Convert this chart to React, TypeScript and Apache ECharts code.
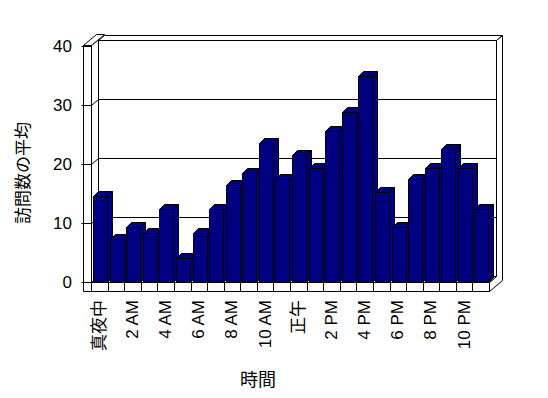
import React, { useEffect, useRef } from "react";
import * as echarts from "echarts";

const hours = [
  "真夜中", "1 AM", "2 AM", "3 AM", "4 AM", "5 AM", "6 AM", "7 AM", "8 AM", "9 AM", "10 AM", "11 AM",
  "正午", "1 PM", "2 PM", "3 PM", "4 PM", "5 PM", "6 PM", "7 PM", "8 PM", "9 PM", "10 PM", "11 PM",
];
const avgVisits = [
  14.5, 7.3, 9.3, 8.3, 12.4, 4.1, 8.3, 12.3, 16.4, 18.4, 23.5, 17.4,
  21.5, 19.4, 25.6, 28.8, 34.9, 15.3, 9.3, 17.4, 19.4, 22.5, 19.4, 12.3,
];
const yMin = 0;
const yMax = 40;
const yStep = 10;
const gridValues = [10, 20, 30];
const yTitle = "訪問数の平均";
const xTitle = "時間";

const FONT = "'Liberation Sans', Arial, 'Noto Sans CJK JP', sans-serif";
const BAR = "#000080";

const p = (v: number) => Math.round(v) + 0.5;

export default function App() {
  const ref = useRef<HTMLDivElement>(null);
  useEffect(() => {
    if (!ref.current) return;
    const chart = echarts.init(ref.current, null, { renderer: "svg" });
    const line = { fill: "#fff", stroke: "#000", lineWidth: 1 };

    const frameItem = (params: any, api: any) => {
      const cs = params.coordSys;
      const L = p(cs.x), R = p(cs.x + cs.width), T = p(cs.y), B = p(cs.y + cs.height);
      const dx = 7, dy = 6; // front plane -> back wall face
      const tx = 6, ty = 5; // wall thickness
      const sw = 8; // left wall slab width
      const fh = 9; // floor slab height
      const children: any[] = [];
      // back wall front face
      children.push({ type: "polygon", shape: { points: [[L + dx, T - dy], [R + dx, T - dy], [R + dx, B - dy], [L + dx, B - dy]] }, style: line });
      // back wall top face
      children.push({ type: "polygon", shape: { points: [[L + dx, T - dy], [R + dx, T - dy], [R + dx + tx, T - dy - ty], [L + dx + tx, T - dy - ty]] }, style: line });
      // right face (floor + back wall)
      children.push({ type: "polygon", shape: { points: [[R + dx, T - dy], [R + dx + tx, T - dy - ty], [R + dx + tx, B + fh - dy - ty], [R, B + fh], [R, B], [R + dx, B - dy]] }, style: line });
      // gridlines on back wall and left wall inner face
      gridValues.forEach((v) => {
        const y = p(api.coord([0, v])[1]);
        children.push({ type: "line", shape: { x1: L + dx, y1: y - dy, x2: R + dx, y2: y - dy }, style: { stroke: "#000", lineWidth: 1 } });
      });
      // floor top face
      children.push({ type: "polygon", shape: { points: [[L, B], [R, B], [R + dx, B - dy], [L + dx, B - dy]] }, style: line });
      // floor front face with category dividers
      children.push({ type: "polygon", shape: { points: [[L, B], [R, B], [R, B + fh], [L, B + fh]] }, style: line });
      const n = hours.length;
      for (let k = 1; k < n; k++) {
        const x = p(cs.x + (cs.width * k) / n);
        children.push({ type: "line", shape: { x1: x, y1: B, x2: x, y2: B + fh }, style: { stroke: "#000", lineWidth: 1 } });
      }
      // left wall inner face
      children.push({ type: "polygon", shape: { points: [[L, T - 1], [L + dx, T - 1 - dy], [L + dx, B - dy], [L, B]] }, style: line });
      gridValues.forEach((v) => {
        const y = p(api.coord([0, v])[1]);
        children.push({ type: "line", shape: { x1: L, y1: y, x2: L + dx, y2: y - dy }, style: { stroke: "#000", lineWidth: 1 } });
      });
      // left wall top face
      children.push({ type: "polygon", shape: { points: [[L - sw, T - 1], [L, T - 1], [L + dx + tx, T - 1 - dy - ty], [L - sw + dx + tx, T - 1 - dy - ty]] }, style: line });
      // left wall front face
      children.push({ type: "polygon", shape: { points: [[L - sw, T - 1], [L, T - 1], [L, B + fh], [L - sw, B + fh]] }, style: line });
      // ticks on the front face
      for (let v = yMin; v <= yMax; v += yStep) {
        const y = p(api.coord([0, v])[1]);
        children.push({ type: "line", shape: { x1: L - sw - 2, y1: y, x2: L, y2: y }, style: { stroke: "#000", lineWidth: 1 } });
      }
      return { type: "group", children };
    };

    const barItem = (params: any, api: any) => {
      const i = api.value(0);
      const v = api.value(1);
      const c = api.coord([i, v]);
      const base = p(api.coord([i, 0])[1]);
      const bw = api.size([1, 0])[0];
      const x0 = p(c[0] - bw / 2 + 2);
      const x1 = x0 + 14;
      const yt = p(c[1]);
      const d = 5;
      const st = { fill: BAR, stroke: "#000", lineWidth: 1 };
      return {
        type: "group",
        children: [
          { type: "polygon", shape: { points: [[x1, yt], [x1 + d, yt - d], [x1 + d, base - d], [x1, base]] }, style: st },
          { type: "polygon", shape: { points: [[x0, yt], [x1, yt], [x1 + d, yt - d], [x0 + d, yt - d]] }, style: st },
          { type: "polygon", shape: { points: [[x0, yt], [x1, yt], [x1, base], [x0, base]] }, style: st },
        ],
      };
    };

    chart.setOption({
      animation: false,
      backgroundColor: "#fff",
      grid: { left: 91, top: 46, width: 398, height: 236 },
      xAxis: {
        type: "category",
        data: hours,
        axisLine: { show: false },
        axisTick: { show: false },
        axisLabel: { interval: 1, rotate: 90, fontSize: 17, margin: 18, color: "#000", fontFamily: FONT },
      },
      yAxis: {
        type: "value",
        min: yMin,
        max: yMax,
        interval: yStep,
        axisLine: { show: false },
        axisTick: { show: false },
        splitLine: { show: false },
        axisLabel: { fontSize: 17, margin: 19, color: "#000", fontFamily: FONT },
      },
      series: [
        { type: "custom", name: "frame", data: [[0, 0]], renderItem: frameItem, clip: false, silent: true, z: 1, encode: { x: 0, y: 1 } },
        {
          type: "custom",
          name: yTitle,
          data: avgVisits.map((v, i) => [i, v]),
          renderItem: barItem,
          clip: false,
          z: 2,
          encode: { x: 0, y: 1 },
        },
      ],
      graphic: [
        { type: "text", x: 23, y: 173, rotation: Math.PI / 2, style: { text: yTitle, font: `17px ${FONT}`, fill: "#000", align: "center", verticalAlign: "middle" } },
        { type: "text", x: 258, y: 380, style: { text: xTitle, font: `18px ${FONT}`, fill: "#000", align: "center", verticalAlign: "middle" } },
      ],
    });
    return () => chart.dispose();
  }, []);
  return <div ref={ref} style={{ position: "fixed", left: 0, top: 0, width: 548, height: 398 }} />;
}
